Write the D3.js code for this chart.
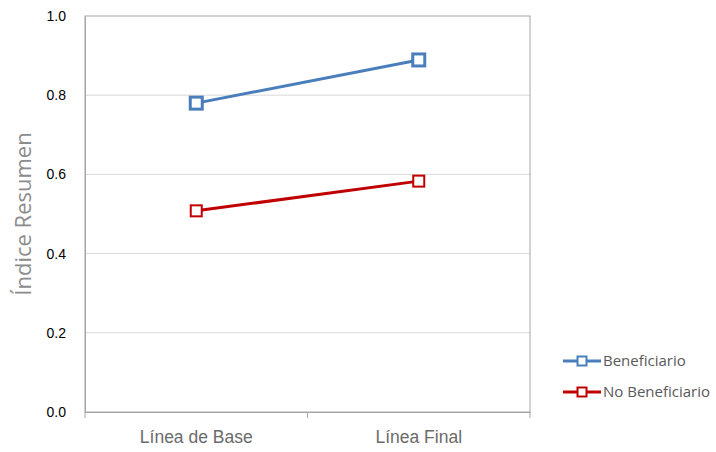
<!DOCTYPE html>
<html><head><meta charset="utf-8">
<script src="https://cdn.jsdelivr.net/npm/d3@7"></script>
<style>body{margin:0;background:#fff;}svg{display:block;font-family:"Open Sans","Liberation Sans",sans-serif;}</style>
</head><body>
<svg id="c" width="716" height="452"></svg>
<script>
const categories = ["Línea de Base", "Línea Final"];
const seriesNames = ["Beneficiario", "No Beneficiario"];
const beneficiario = [0.780, 0.889];
const noBeneficiario = [0.508, 0.583];
const yTicks = [0.0, 0.2, 0.4, 0.6, 0.8, 1.0];
const colors = ["#4a7ebb", "#c00000"];

const svg = d3.select("#c");
const L = 85, R = 530, T = 16, B = 412;
const x = d3.scaleBand().domain(categories).range([L, R]);
const y = d3.scaleLinear().domain([0, 1]).range([B, T]);

// gridlines
svg.append("g").selectAll("line").data(yTicks.filter(d => d > 0 && d < 1)).join("line")
  .attr("x1", L).attr("x2", R).attr("y1", d => y(d)).attr("y2", d => y(d))
  .attr("stroke", "#d9d9d9").attr("stroke-width", 1);
// frame
svg.append("rect").attr("x", L).attr("y", T).attr("width", R - L).attr("height", B - T)
  .attr("fill", "none").attr("stroke", "#a6a6a6").attr("stroke-width", 1);

// y axis
const ya = svg.append("g").attr("transform", `translate(${L},0)`)
  .call(d3.axisLeft(y).tickValues(yTicks).tickFormat(d3.format(".1f")).tickSize(0).tickPadding(19));
ya.select(".domain").attr("stroke", "#a6a6a6");
ya.selectAll("text").attr("font-size", 14).attr("fill", "#000");

// x axis
const xa = svg.append("g").attr("transform", `translate(0,${B})`)
  .call(d3.axisBottom(x).tickSize(0).tickPadding(19));
xa.select(".domain").attr("stroke", "#a6a6a6");
xa.selectAll("text").attr("font-size", 17.5).attr("fill", "#6b6b6b");
const bounds = [L, L + x.bandwidth(), R];
svg.append("g").selectAll("line").data(bounds).join("line")
  .attr("x1", d => d).attr("x2", d => d).attr("y1", B).attr("y2", B + 6)
  .attr("stroke", "#a6a6a6");

// y title
svg.append("text").attr("transform", `translate(31,${(T + B) / 2}) rotate(-90)`)
  .attr("text-anchor", "middle").attr("font-size", 22).attr("fill", "#8c8c8c").text("Índice Resumen");

const series = [beneficiario, noBeneficiario];
const markerSize = [12, 11];
const markerStroke = [3, 2];
const line = d3.line().x((d, i) => x(categories[i]) + x.bandwidth() / 2).y(d => y(d));
series.forEach((s, k) => {
  const g = svg.append("g");
  g.append("path").attr("d", line(s)).attr("fill", "none").attr("stroke", colors[k]).attr("stroke-width", 3);
  g.selectAll("rect").data(s).join("rect")
    .attr("x", (d, i) => x(categories[i]) + x.bandwidth() / 2 - markerSize[k] / 2)
    .attr("y", d => y(d) - markerSize[k] / 2)
    .attr("width", markerSize[k]).attr("height", markerSize[k])
    .attr("fill", "#fff").attr("stroke", colors[k]).attr("stroke-width", markerStroke[k]);
});

// legend
const lg = svg.append("g");
seriesNames.forEach((n, k) => {
  const ly = 361 + k * 31;
  lg.append("line").attr("x1", 563).attr("x2", 601).attr("y1", ly).attr("y2", ly)
    .attr("stroke", colors[k]).attr("stroke-width", 3);
  lg.append("rect").attr("x", 582 - 4.5).attr("y", ly - 4.5).attr("width", 9).attr("height", 9)
    .attr("fill", "#fff").attr("stroke", colors[k]).attr("stroke-width", 2);
  lg.append("text").attr("x", 603).attr("y", ly + 5).attr("font-size", 15).attr("fill", "#595959").text(n);
});
</script>
</body></html>
